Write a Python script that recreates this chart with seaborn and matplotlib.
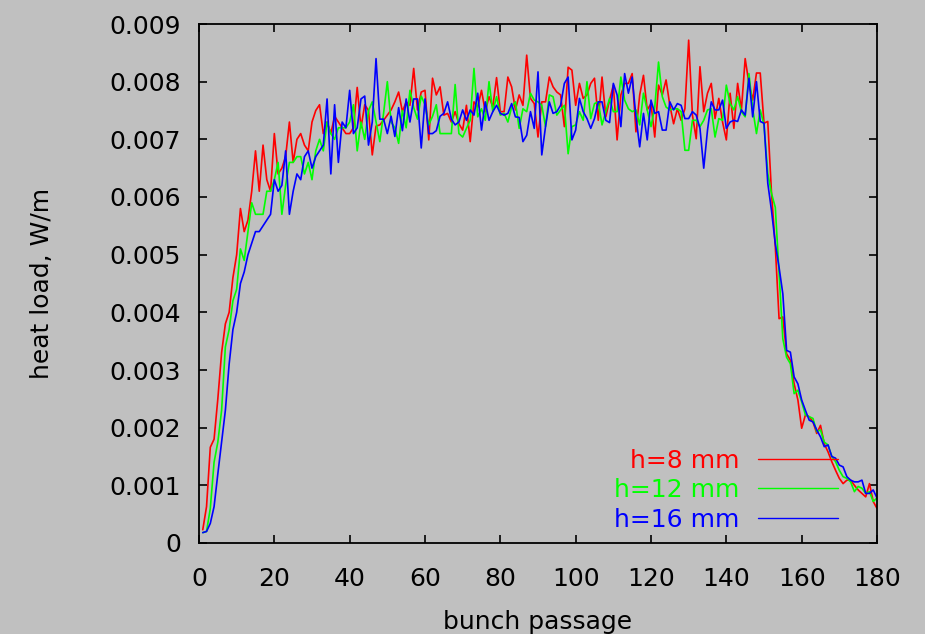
import numpy as np
import pandas as pd
import matplotlib
matplotlib.use("Agg")
import matplotlib.pyplot as plt
import seaborn as sns

# ---------------- data (values in units of 1e-3 W/m) ----------------
bunch = list(range(1, 181))

h8 = [0.23, 0.63, 1.66, 1.8, 2.5, 3.3, 3.8, 4.0, 4.6, 5.0,
      5.8, 5.4, 5.6, 6.1, 6.8, 6.1, 6.9, 6.3, 6.1, 7.1,
      6.4, 6.5, 6.7, 7.3, 6.6, 7.0, 7.1, 6.9, 6.8, 7.3,
      7.5, 7.6, 7.1, 7.3, 7.1, 7.4, 7.3, 7.2, 7.1, 7.1,
      7.2, 7.9, 7.2, 7.6, 7.5, 6.73, 7.23, 7.25, 7.33, 7.42,
      7.51, 7.65, 7.82, 7.48, 7.65, 7.59, 8.23, 7.51, 7.82, 7.85,
      6.99, 8.06, 7.77, 7.91, 7.42, 7.45, 7.30, 7.48, 7.27, 7.16,
      7.59, 6.96, 7.65, 7.56, 7.85, 7.48, 7.74, 7.56, 8.07, 7.48,
      7.48, 8.08, 7.91, 7.51, 7.77, 7.59, 8.46, 7.71, 7.62, 7.04,
      7.65, 7.65, 8.08, 7.91, 7.82, 7.77, 7.22, 8.25, 8.2, 7.59,
      7.97, 7.71, 7.77, 7.97, 8.06, 7.33, 8.08, 7.39, 7.68, 7.94,
      6.99, 7.77, 7.97, 7.97, 8.14, 7.13, 7.77, 8.11, 7.51, 7.62,
      7.04, 7.94, 7.77, 8.03, 7.59, 7.27, 7.53, 7.33, 7.53, 8.72,
      7.42, 7.01, 8.26, 7.48, 7.8, 7.97, 7.36, 7.71, 7.30, 6.99,
      7.8, 7.19, 7.97, 7.51, 8.4, 7.97, 7.68, 8.15, 8.15, 7.28,
      7.31, 6.06, 5.14, 3.89, 3.92, 3.28, 3.17, 2.76, 2.48, 1.99,
      2.22, 2.19, 2.1, 1.9, 2.04, 1.72, 1.58, 1.41, 1.26, 1.12,
      1.03, 1.09, 1.09, 1.0, 0.92, 0.86, 0.8, 1.03, 0.72, 0.6]

h12 = [0.18, 0.2, 0.6, 1.4, 1.75, 2.3, 3.4, 3.7, 4.2, 4.4,
       5.1, 4.9, 5.4, 5.9, 5.7, 5.7, 5.7, 6.1, 6.1, 6.3,
       6.6, 5.7, 6.2, 6.6, 6.6, 6.7, 6.7, 6.4, 6.6, 6.3,
       6.8, 7.0, 6.8, 7.3, 7.1, 7.0, 7.2, 7.2, 7.2, 7.3,
       7.6, 6.8, 7.3, 7.0, 7.5, 7.65, 7.3, 6.96, 7.45, 8.0,
       7.3, 7.2, 6.93, 7.5, 7.2, 7.85, 7.55, 7.35, 7.75, 7.6,
       7.25, 7.4, 7.6, 7.1, 7.1, 7.1, 7.1, 7.95, 7.1, 7.04,
       7.19, 7.33, 8.23, 7.39, 7.53, 7.33, 8.0, 7.48, 7.74, 7.42,
       7.45, 7.30, 7.56, 7.65, 7.19, 7.53, 7.48, 7.8, 7.68, 7.65,
       7.59, 7.22, 7.77, 7.74, 7.42, 7.51, 7.59, 6.75, 7.22, 7.25,
       7.48, 7.33, 8.0, 7.36, 7.62, 7.65, 7.25, 7.48, 7.71, 7.48,
       7.48, 8.08, 7.68, 7.53, 7.48, 7.51, 7.25, 7.8, 7.51, 7.22,
       7.56, 8.34, 7.74, 7.56, 7.51, 7.53, 7.53, 7.48, 6.81, 6.81,
       7.33, 7.33, 7.22, 7.33, 7.51, 7.53, 7.04, 7.36, 7.33, 7.94,
       7.62, 7.51, 7.74, 7.48, 7.39, 8.14, 7.53, 7.1, 7.51, 7.25,
       6.41, 6.06, 5.82, 4.67, 3.54, 3.22, 3.11, 2.59, 2.65, 2.45,
       2.22, 2.19, 2.16, 1.93, 1.96, 1.75, 1.7, 1.5, 1.41, 1.26,
       1.15, 1.12, 1.06, 0.89, 0.98, 0.95, 0.86, 0.89, 0.72, 0.78]

h16 = [0.18, 0.2, 0.34, 0.63, 1.2, 1.75, 2.3, 3.1, 3.7, 4.0,
       4.5, 4.7, 5.0, 5.2, 5.4, 5.4, 5.5, 5.6, 5.7, 6.3,
       6.1, 6.2, 6.8, 5.7, 6.1, 6.4, 6.3, 6.7, 6.8, 6.5,
       6.7, 6.8, 6.9, 7.7, 6.4, 7.6, 6.6, 7.3, 7.2, 7.85,
       7.1, 7.2, 7.7, 7.75, 6.9, 7.3, 8.4, 7.35, 7.35, 7.1,
       7.4, 7.05, 7.55, 7.15, 7.7, 7.3, 7.7, 7.7, 6.85, 7.7,
       7.1, 7.1, 7.15, 7.4, 7.45, 7.65, 7.35, 7.25, 7.3, 7.51,
       7.33, 7.51, 7.42, 7.8, 7.16, 7.65, 7.33, 7.48, 7.59, 7.45,
       7.42, 7.45, 7.62, 7.39, 7.38, 6.96, 7.07, 7.48, 7.19, 8.17,
       6.73, 7.22, 7.65, 7.45, 7.48, 7.59, 7.97, 8.08, 6.99, 7.16,
       7.71, 7.48, 7.36, 7.19, 7.36, 7.65, 7.65, 7.33, 7.29, 7.97,
       7.77, 7.22, 8.14, 7.8, 8.08, 7.39, 6.87, 7.45, 6.99, 7.68,
       7.45, 7.48, 7.16, 7.16, 7.65, 7.51, 7.62, 7.59, 7.36, 7.36,
       7.48, 7.42, 7.19, 6.5, 7.16, 7.65, 7.51, 7.51, 7.68, 7.19,
       7.30, 7.33, 7.31, 7.51, 7.42, 8.06, 7.39, 8.0, 7.31, 7.28,
       6.24, 5.76, 5.19, 4.78, 4.32, 3.34, 3.31, 2.88, 2.76, 2.48,
       2.3, 2.13, 2.1, 1.96, 1.84, 1.67, 1.7, 1.5, 1.47, 1.35,
       1.32, 1.15, 1.09, 1.06, 1.06, 1.09, 0.86, 0.86, 0.92, 0.78]

series_names = ["h=8 mm", "h=12 mm", "h=16 mm"]
series_colors = ["#ff0000", "#00ff00", "#0000ff"]
x_ticks = [0, 20, 40, 60, 80, 100, 120, 140, 160, 180]
y_ticks = [0, 0.001, 0.002, 0.003, 0.004, 0.005, 0.006, 0.007, 0.008, 0.009]
y_tick_labels = ["0", "0.001", "0.002", "0.003", "0.004", "0.005",
                 "0.006", "0.007", "0.008", "0.009"]
x_label = "bunch passage"
y_label = "heat load, W/m"

# ---------------- build long table ----------------
frames = []
for name, vals in zip(series_names, [h8, h12, h16]):
    frames.append(pd.DataFrame({"bunch": bunch,
                                "load": np.array(vals) * 1e-3,
                                "series": name}))
df = pd.concat(frames, ignore_index=True)

# ---------------- style ----------------
sns.set_theme(style="ticks")
bg = "#c0c0c0"
plt.rcParams["font.family"] = ["DejaVu Sans"]
plt.rcParams["figure.facecolor"] = bg
plt.rcParams["axes.facecolor"] = bg

fig = plt.figure(figsize=(9.25, 6.34), dpi=100)
ax = fig.add_axes([199 / 925, 1 - 543 / 634, (877 - 199) / 925, (543 - 24) / 634])

sns.lineplot(data=df, x="bunch", y="load", hue="series",
             palette=dict(zip(series_names, series_colors)),
             hue_order=series_names, linewidth=1.2, ax=ax, legend=False)

ax.set_xlim(0, 180)
ax.set_ylim(0, 0.009)
ax.set_xticks(x_ticks)
ax.set_xticklabels([str(t) for t in x_ticks])
ax.set_yticks(y_ticks)
ax.set_yticklabels(y_tick_labels)
ax.tick_params(direction="in", length=6, width=1.2, color="black",
               top=True, right=True, labelsize=18, labelcolor="black")
ax.tick_params(axis="y", pad=13)
ax.tick_params(axis="x", pad=17)
for sp in ax.spines.values():
    sp.set_visible(True)
    sp.set_color("black")
    sp.set_linewidth(1.3)

ax.set_xlabel(x_label, fontsize=18, color="black", labelpad=14)
ax.set_ylabel(y_label, fontsize=18, color="black", labelpad=40)

handles = [plt.Line2D([], [], color=c, lw=1.0) for c in series_colors]
leg = ax.legend(handles, series_names, loc="center right",
                bbox_to_anchor=(0.9425, 0.102), frameon=False,
                markerfirst=False, labelcolor=series_colors,
                fontsize=18, handlelength=3.2, handletextpad=0.75,
                labelspacing=0.22, borderpad=0, borderaxespad=0)
for t in leg.get_texts():
    t.set_ha("right")

fig.savefig("out.png", dpi=100, facecolor=bg)
